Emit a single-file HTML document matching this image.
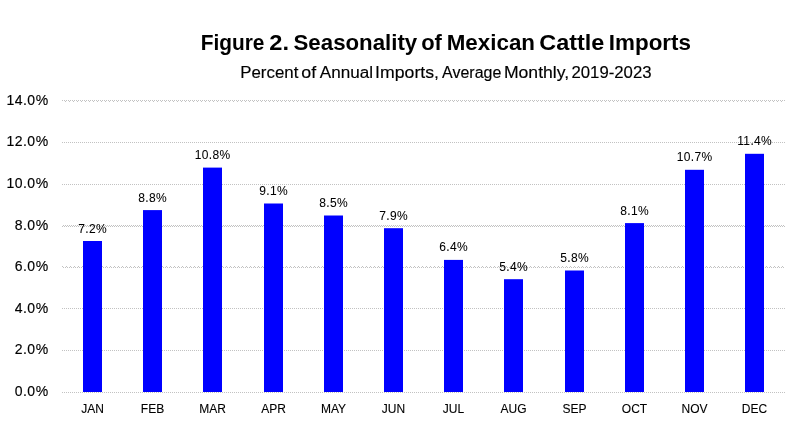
<!DOCTYPE html>
<html><head><meta charset="utf-8"><title>Figure 2. Seasonality of Mexican Cattle Imports</title>
<style>
html,body{margin:0;padding:0;background:#fff;}
body{width:795px;height:423px;overflow:hidden;}
svg{display:block;will-change:transform;}
text{font-family:"Liberation Sans",Arial,sans-serif;fill:#000;}
.t{font-weight:bold;font-size:21.5px;}
.s{font-size:16px;stroke:#000;stroke-width:0.15px;}
.y{font-size:14px;letter-spacing:0.5px;stroke:#000;stroke-width:0.15px;}
.d{font-size:12px;letter-spacing:0.35px;stroke:#000;stroke-width:0.06px;}
.m{font-size:12px;stroke:#000;stroke-width:0.1px;}
</style></head><body>
<svg width="795" height="423" viewBox="0 0 795 423">
<rect width="795" height="423" fill="#fff"/>
<g stroke="#c2c2c2" stroke-width="1">
<line x1="62" y1="392.5" x2="785" y2="392.5" stroke-dasharray="1 1"/>
<line x1="62" y1="350.5" x2="785" y2="350.5" stroke-dasharray="1 1"/>
<line x1="62" y1="308.5" x2="785" y2="308.5" stroke-dasharray="1 1"/>
<line x1="62" y1="266.5" x2="785" y2="266.5" stroke-dasharray="1 3"/>
<line x1="63" y1="267.5" x2="785" y2="267.5" stroke-dasharray="1 1"/>
<line x1="63" y1="225.5" x2="785" y2="225.5" stroke-dasharray="1 1"/>
<line x1="62" y1="226.5" x2="785" y2="226.5" stroke-dasharray="1 1"/>
<line x1="62" y1="184.5" x2="785" y2="184.5" stroke-dasharray="1 1"/>
<line x1="62" y1="142.5" x2="785" y2="142.5" stroke-dasharray="1 1"/>
<line x1="62" y1="100.5" x2="785" y2="100.5" stroke-dasharray="1 1"/>
<line x1="65" y1="101.5" x2="785" y2="101.5" stroke-dasharray="1 3"/>
</g>
<g fill="#0000ff">
<rect x="83" y="241.0" width="19" height="151.0"/>
<rect x="143" y="210.1" width="19" height="181.9"/>
<rect x="203" y="167.6" width="19" height="224.4"/>
<rect x="264" y="203.5" width="19" height="188.5"/>
<rect x="324" y="215.5" width="19" height="176.5"/>
<rect x="384" y="228.2" width="19" height="163.8"/>
<rect x="444" y="259.9" width="19" height="132.1"/>
<rect x="504" y="279.2" width="19" height="112.8"/>
<rect x="565" y="270.5" width="19" height="121.5"/>
<rect x="625" y="223.1" width="19" height="168.9"/>
<rect x="685" y="169.8" width="19" height="222.2"/>
<rect x="745" y="153.8" width="19" height="238.2"/>
</g>
<g class="d" text-anchor="middle">
<text x="92.67" y="232.5">7.2%</text>
<text x="152.67" y="201.6">8.8%</text>
<text x="212.67" y="159.1">10.8%</text>
<text x="273.67" y="195.0">9.1%</text>
<text x="333.67" y="207.0">8.5%</text>
<text x="393.67" y="219.7">7.9%</text>
<text x="453.67" y="251.4">6.4%</text>
<text x="513.67" y="270.7">5.4%</text>
<text x="574.67" y="262.0">5.8%</text>
<text x="634.67" y="214.6">8.1%</text>
<text x="694.67" y="161.3">10.7%</text>
<text x="754.67" y="145.3">11.4%</text>
</g>
<g class="y" text-anchor="end">
<text x="48.6" y="396.3">0.0%</text>
<text x="48.6" y="354.3">2.0%</text>
<text x="48.6" y="312.8">4.0%</text>
<text x="48.6" y="270.8">6.0%</text>
<text x="48.6" y="229.8">8.0%</text>
<text x="48.6" y="188.3">10.0%</text>
<text x="48.6" y="146.3">12.0%</text>
<text x="48.6" y="104.8">14.0%</text>
</g>
<g class="m" text-anchor="middle">
<text x="92.5" y="412.6">JAN</text>
<text x="152.5" y="412.6">FEB</text>
<text x="212.5" y="412.6">MAR</text>
<text x="273.5" y="412.6">APR</text>
<text x="333.5" y="412.6">MAY</text>
<text x="393.5" y="412.6">JUN</text>
<text x="453.5" y="412.6">JUL</text>
<text x="513.5" y="412.6">AUG</text>
<text x="574.5" y="412.6">SEP</text>
<text x="634.5" y="412.6">OCT</text>
<text x="694.5" y="412.6">NOV</text>
<text x="754.5" y="412.6">DEC</text>
</g>
<g class="t">
<text x="200.74" y="49.8" textLength="63.74" lengthAdjust="spacingAndGlyphs">Figure</text>
<text x="269.28" y="49.8" textLength="19.7" lengthAdjust="spacingAndGlyphs">2.</text>
<text x="293.52" y="49.8" textLength="123.74" lengthAdjust="spacingAndGlyphs">Seasonality</text>
<text x="421.23" y="49.8" textLength="20.71" lengthAdjust="spacingAndGlyphs">of</text>
<text x="446.74" y="49.8" textLength="88.27" lengthAdjust="spacingAndGlyphs">Mexican</text>
<text x="539.31" y="49.8" textLength="65.09" lengthAdjust="spacingAndGlyphs">Cattle</text>
<text x="608.84" y="49.8" textLength="82.14" lengthAdjust="spacingAndGlyphs">Imports</text>
</g>
<g class="s">
<text x="240.28" y="77.9" textLength="58.06" lengthAdjust="spacingAndGlyphs">Percent</text>
<text x="301.27" y="77.9" textLength="14.84" lengthAdjust="spacingAndGlyphs">of</text>
<text x="319.8" y="77.9" textLength="53.25" lengthAdjust="spacingAndGlyphs">Annual</text>
<text x="375.14" y="77.9" textLength="63.79" lengthAdjust="spacingAndGlyphs">Imports,</text>
<text x="442.1" y="77.9" textLength="59.21" lengthAdjust="spacingAndGlyphs">Average</text>
<text x="503.93" y="77.9" textLength="65.16" lengthAdjust="spacingAndGlyphs">Monthly,</text>
<text x="571.52" y="77.9" textLength="79.98" lengthAdjust="spacingAndGlyphs">2019-2023</text>
</g>
</svg>
</body></html>
